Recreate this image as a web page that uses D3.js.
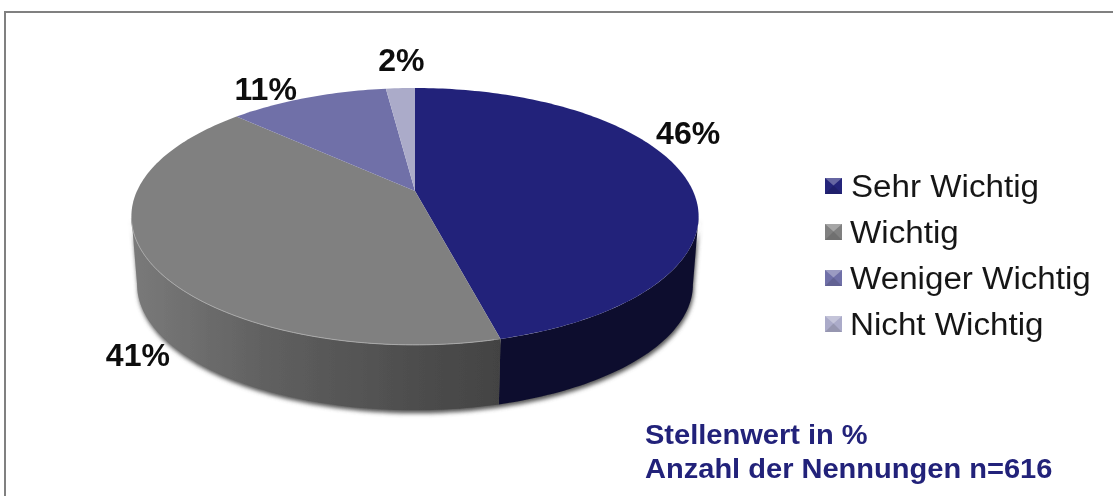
<!DOCTYPE html>
<html>
<head>
<meta charset="utf-8">
<script src="https://cdn.jsdelivr.net/npm/d3@7"></script>
<style>
html, body { margin: 0; padding: 0; background: #fff; }
svg { display: block; }
text { font-family: "Liberation Sans", Arial, sans-serif; }
</style>
</head>
<body>
<script>
// Data
let categories = ["Sehr Wichtig", "Wichtig", "Weniger Wichtig", "Nicht Wichtig"];
let values = [46, 41, 11, 2];
let topColors = ["#24247a", "#808080", "#7070a8", "#ababc9"];
let sideColors = ["#10102f", "url(#graySide)", "#4c4c78", "#77778f"];
let notes = ["Stellenwert in %", "Anzahl der Nennungen n=616"];

const w = 1113, h = 496;

// Perspective view of the pie: the apex sits above the middle of the ellipse
const persp = 0.198;
const depth = 68, bottomScale = 0.98;
const xScale = d3.scaleLinear().domain([-1, 1]).range([415 - 278, 415 + 278]);
const yScale = d3.scaleLinear().domain([-1, 1]).range([191 - 123.4, 191 + 123.4]);

// a = angle clockwise from 12 o'clock, in radians
function project(a, r = 1, dy = 0) {
    let ux = r * Math.sin(a), uy = -r * Math.cos(a);
    let q = 1 - persp * uy;
    return [xScale(ux / q), yScale(uy / q) + dy];
}
const bottomPoint = a => {
    let [x, y] = project(a);
    return [415 + (x - 415) * bottomScale, 216 + (y - 216) * bottomScale + depth];
};
function arcAngles(a0, a1) {
    let n = Math.max(2, Math.ceil((a1 - a0) / 0.02));
    return d3.range(n + 1).map(i => a0 + (a1 - a0) * i / n);
}

let svg = d3.select("body").append("svg").attr("width", w).attr("height", h);
let defs = svg.append("defs");

let grad = defs.append("linearGradient").attr("id", "graySide")
    .attr("gradientUnits", "userSpaceOnUse")
    .attr("x1", 131).attr("x2", 500).attr("y1", 0).attr("y2", 0);
grad.append("stop").attr("offset", "0").attr("stop-color", "#7a7a7a");
grad.append("stop").attr("offset", "0.4").attr("stop-color", "#5e5e5e");
grad.append("stop").attr("offset", "1").attr("stop-color", "#434343");

defs.append("filter").attr("id", "shadow")
    .attr("x", "-10%").attr("y", "-10%").attr("width", "120%").attr("height", "120%")
    .append("feGaussianBlur").attr("stdDeviation", 2.2);
defs.append("filter").attr("id", "soft")
    .attr("x", "-5%").attr("y", "-5%").attr("width", "110%").attr("height", "110%")
    .append("feGaussianBlur").attr("stdDeviation", 0.5);
defs.append("filter").attr("id", "softText")
    .attr("x", "-5%").attr("y", "-15%").attr("width", "110%").attr("height", "130%")
    .append("feGaussianBlur").attr("stdDeviation", 0.35);

// Frame, open on the right and at the bottom
svg.append("path")
    .attr("d", `M5,${h}V12H${w}`)
    .attr("fill", "none").attr("stroke", "#808080").attr("stroke-width", 2);

let pie = d3.pie().sort(null).startAngle(0).endAngle(2 * Math.PI);
let slices = pie(values);
let line = d3.line();

let chart = svg.append("g").attr("filter", "url(#soft)");

// Side wall runs between the two points where the ellipse is widest
const sideFrom = Math.acos(-persp), sideTo = 2 * Math.PI - sideFrom;
function sidePath(d) {
    let a0 = Math.max(d.startAngle, sideFrom), a1 = Math.min(d.endAngle, sideTo);
    if (a1 <= a0) return null;
    let angles = arcAngles(a0, a1);
    return line(angles.map(a => project(a)).concat(angles.reverse().map(bottomPoint))) + "Z";
}

// Soft shadow under the front edge
chart.append("path")
    .attr("d", line(arcAngles(sideFrom, sideTo).map(bottomPoint)
        .concat(arcAngles(sideFrom, sideTo).reverse().map(a => project(a)))) + "Z")
    .attr("fill", "#555")
    .attr("transform", "translate(1,3)")
    .attr("filter", "url(#shadow)");

chart.selectAll(".side")
    .data(slices.filter(d => sidePath(d)))
    .enter().append("path")
    .attr("class", "side")
    .attr("d", sidePath)
    .attr("fill", d => sideColors[d.index]);

chart.selectAll(".top")
    .data(slices)
    .enter().append("path")
    .attr("class", "top")
    .attr("d", d => line([project(0, 0)].concat(arcAngles(d.startAngle, d.endAngle).map(a => project(a)))) + "Z")
    .attr("fill", d => topColors[d.index]);

// Thin light rim where the gray top meets its wall
chart.append("path")
    .attr("d", line(arcAngles(slices[1].startAngle + 0.02, 4.5).map(a => project(a))))
    .attr("fill", "none").attr("stroke", "#a8a8a8").attr("stroke-width", 1);

// Percent labels, placed by hand relative to the slice's mid-point on the rim
const labelNudge = [[4, -43], [-11, 94], [-42, -9], [1, -28]];
svg.selectAll(".pct")
    .data(slices)
    .enter().append("text")
    .attr("class", "pct")
    .attr("x", d => project((d.startAngle + d.endAngle) / 2)[0] + labelNudge[d.index][0])
    .attr("y", d => project((d.startAngle + d.endAngle) / 2)[1] + labelNudge[d.index][1] + 11)
    .attr("text-anchor", "middle")
    .attr("font-size", 32)
    .attr("font-weight", "bold")
    .attr("fill", "#0a0a0a")
    .attr("filter", "url(#softText)")
    .text(d => d.data + "%");

// Legend
const legendX = 825, legendY = 178, legendStep = 46, markerSize = 17;
let legendRow = svg.selectAll(".legendRow")
    .data(categories)
    .enter().append("g")
    .attr("class", "legendRow")
    .attr("transform", (d, i) => `translate(${legendX},${legendY + i * legendStep})`);

legendRow.append("rect")
    .attr("width", markerSize).attr("height", markerSize - 1)
    .attr("fill", (d, i) => topColors[i]);
// little bevelled "pyramid" on each key
legendRow.append("path")
    .attr("d", `M0,0H${markerSize}L${markerSize / 2},${markerSize / 2 - 1}Z`)
    .attr("fill", "#fff").attr("fill-opacity", 0.3);
legendRow.append("path")
    .attr("d", `M0,${markerSize - 1}H${markerSize}L${markerSize / 2},${markerSize / 2 - 1}Z`)
    .attr("fill", "#000").attr("fill-opacity", 0.12);

// the original lettering is wider than Liberation Sans, so stretch it
legendRow.append("text")
    .attr("transform", (d, i) => `translate(${i === 0 ? 26 : 25},19) scale(1.07,1)`)
    .attr("font-size", 31)
    .attr("fill", "#161616")
    .attr("filter", "url(#softText)")
    .text(d => d);

// Note at the bottom right
svg.selectAll(".note")
    .data(notes)
    .enter().append("text")
    .attr("class", "note")
    .attr("transform", (d, i) => `translate(645,${444 + i * 34}) scale(1.076,1)`)
    .attr("font-size", 27)
    .attr("font-weight", "bold")
    .attr("fill", "#24247a")
    .attr("filter", "url(#softText)")
    .text(d => d);
</script>
</body>
</html>
